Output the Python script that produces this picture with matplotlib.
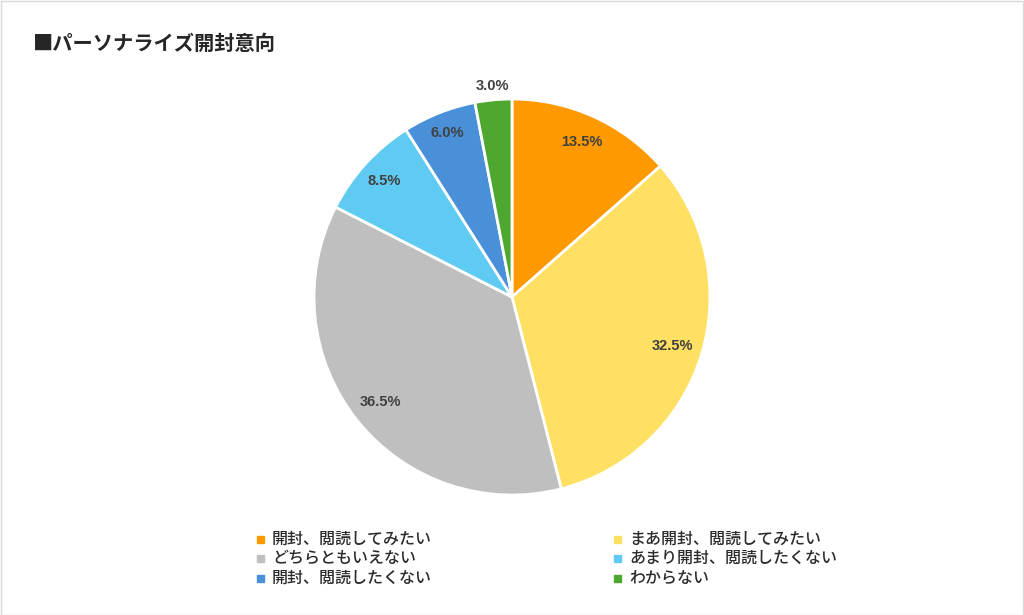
import numpy as np
import matplotlib.pyplot as plt
from matplotlib.patches import Rectangle

plt.rcParams['font.family'] = ['Noto Sans CJK JP', 'DejaVu Sans']

title = "■パーソナライズ開封意向"
categories = ["開封、閲読してみたい", "まあ開封、閲読してみたい", "どちらともいえない",
              "あまり開封、閲読したくない", "開封、閲読したくない", "わからない"]
values = [13.5, 32.5, 36.5, 8.5, 6.0, 3.0]
colors = ["#FF9900", "#FFE062", "#BFBFBF", "#5FCAF2", "#4A90D9", "#4EA72E"]

fig = plt.figure(figsize=(10.24, 6.15), dpi=100)
W, H = 1024, 615

# pie axes: center (512, 297), radius ~198 px
cx, cy, r = 512, 297, 198
ax = fig.add_axes([(cx - r) / W, (H - cy - r) / H, 2 * r / W, 2 * r / H])
ax.pie(values, colors=colors, startangle=90, counterclock=False, radius=1,
       wedgeprops=dict(edgecolor='white', linewidth=2))
ax.set_xlim(-1, 1)
ax.set_ylim(-1, 1)
ax.set_aspect('equal')
ax.axis('off')

# percentage labels
lab_r = [0.86, 0.85, 0.85, 0.87, 0.89, 1.07]
cum = np.cumsum([0] + values[:-1])
for i, v in enumerate(values):
    ang = np.deg2rad(90 - 360 * (cum[i] + v / 2) / sum(values))
    ax.text(lab_r[i] * np.cos(ang), lab_r[i] * np.sin(ang), f"{v:.1f}%",
            ha='center', va='center', fontsize=10.5, fontweight='bold',
            color='#404040', family=['Liberation Sans', 'DejaVu Sans'],
            clip_on=False)

# title
fig.text(33 / W, 1 - 43 / H, title, fontsize=14.6, fontweight='bold',
         color='#262626', ha='left', va='center')

# legend (2 columns)
col_x = [260, 617]
row_y = [539, 558, 578]
for i, lab in enumerate(categories):
    x = col_x[i % 2]
    y = row_y[i // 2]
    fig.add_artist(Rectangle(((x - 3.5) / W, 1 - (y + 3.5) / H), 7 / W, 7 / H,
                             transform=fig.transFigure, color=colors[i]))
    fig.text((x + 12) / W, 1 - y / H, lab, fontsize=11.5, fontweight='medium',
             color='#2b2b2b', ha='left', va='center')

# outer frame
fig.add_artist(Rectangle((0.5 / W, 0.5 / H), 1 - 1.5 / W, 1 - 1.5 / H,
                         transform=fig.transFigure, fill=False,
                         edgecolor='#D9D9D9', linewidth=1))

fig.savefig("out.png", dpi=100)
